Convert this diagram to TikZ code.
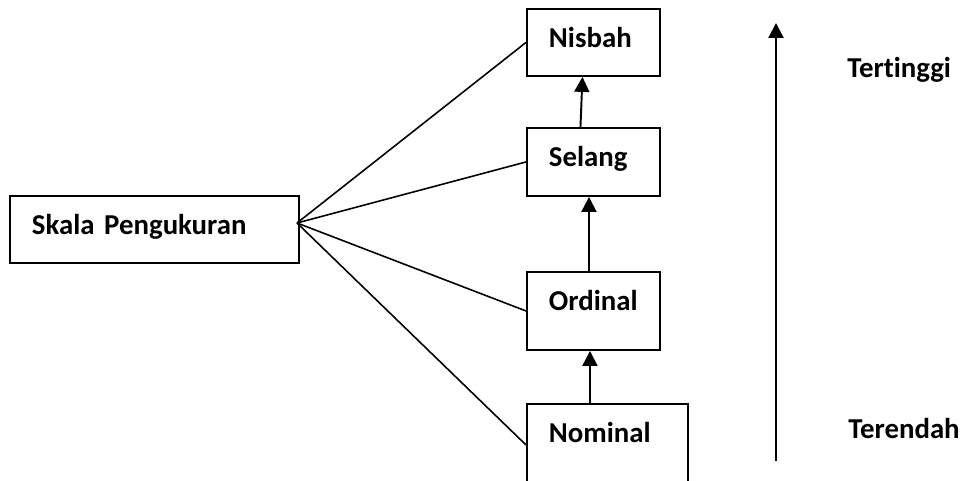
\documentclass[tikz,border=0pt]{standalone}
\usepackage{fontspec}
\setmainfont{Carlito}[Ligatures=NoCommon]
\usetikzlibrary{arrows.meta, calc}

\begin{document}
\begin{tikzpicture}[
    kotak/.style  = {draw, line width=1.1pt, anchor=north west, inner xsep=0.44cm,
                     inner ysep=0pt, align=left, text height=0.78cm,
                     font=\fontsize{16.4}{20}\selectfont\bfseries},
    garis/.style  = {line width=0.9pt},
    panah/.style  = {line width=1.1pt, -{Triangle[length=0.3cm,width=0.3cm]}},
    etiket/.style = {font=\fontsize{16.4}{20}\selectfont\bfseries, anchor=base west, inner sep=0pt}
]
\useasboundingbox (0,0) rectangle (19.28,-9.62);

% ---- skala pengukuran ----
\node[kotak, text width=4.90cm, text depth=0.56cm] (skala) at (0.18,-3.90) {Skala Pengukuran};

% ---- jenis skala ----
\node[kotak, text width=1.78cm, text depth=0.56cm] (nisbah)  at (10.52,-0.16) {Nisbah};
\node[kotak, text width=1.78cm, text depth=0.58cm] (selang)  at (10.52,-2.54) {Selang};
\node[kotak, text width=1.78cm, text depth=0.78cm] (ordinal) at (10.52,-5.42) {Ordinal};
\node[kotak, text width=2.34cm, text depth=0.86cm] (nominal) at (10.52,-8.06) {Nominal};

% ---- garis kipas ----
\coordinate (pusat) at (5.94,-4.46);
\foreach \k in {nisbah,selang,ordinal,nominal}{
    \draw[garis] (pusat) -- (\k.west);
}

% ---- urutan naik ----
\draw[panah] ([xshift=-0.26cm]selang.north)   -- ([xshift=-0.22cm]nisbah.south);
\draw[panah] ([xshift=-0.09cm]ordinal.north)  -- ([xshift=-0.09cm]selang.south);
\draw[panah] ([xshift=-0.35cm]nominal.north)  -- ([xshift=-0.07cm]ordinal.south);

% ---- tingkat ----
\coordinate (bawah) at (15.52,-9.22);
\coordinate (atas)  at (15.52,-0.46);
\draw[panah, line width=1.3pt] (bawah) -- (atas);
\node[etiket] (tinggi) at (16.94,-1.56) {Tertinggi};
\node[etiket] (rendah) at (16.96,-8.78) {Terendah};

\end{tikzpicture}
\end{document}
